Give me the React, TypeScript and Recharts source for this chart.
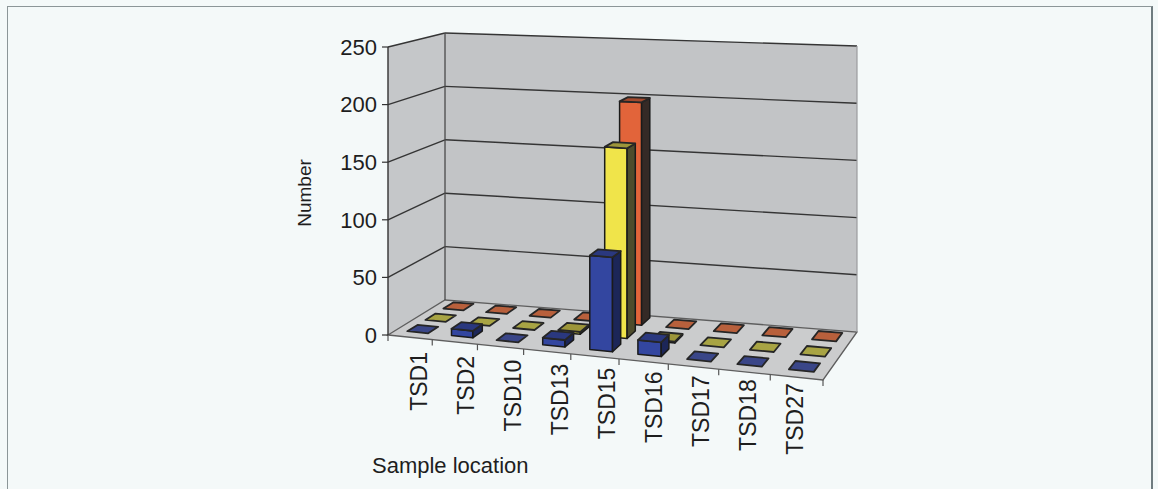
import React from 'react';
import { ComposedChart, Bar, XAxis, YAxis, ReferenceArea } from 'recharts';

// ---------- data ----------
const categories = ['TSD1', 'TSD2', 'TSD10', 'TSD13', 'TSD15', 'TSD16', 'TSD17', 'TSD18', 'TSD27'];
const seriesBlue = [0, 6, 0, 6, 80, 12, 0, 0, 0];
const seriesYellow = [0, 0, 0, 2, 165, 1, 0, 0, 0];
const seriesOrange = [0, 0, 0, 0, 198, 0, 0, 0, 0];
const yTicks = [0, 50, 100, 150, 200, 250];
const yDomain = [0, 250];

const data = categories.map((name, i) => ({
  name,
  blue: seriesBlue[i],
  yellow: seriesYellow[i],
  orange: seriesOrange[i],
}));

// ---------- layout ----------
const W = 1158;
const H = 489;
const MARGIN = { top: 47, right: 335, bottom: 14, left: 288 };
const Y_AXIS_W = 100;
const X_AXIS_H = 140;
const PLOT_L = MARGIN.left + Y_AXIS_W;
const PLOT_W = W - PLOT_L - MARGIN.right;
const PLOT_H = H - MARGIN.top - MARGIN.bottom - X_AXIS_H;
const PLOT_B = MARGIN.top + PLOT_H;

// 3D look (perspective-ish projection of the flat plot box)
const WARP = -0.094;
const FRONT_DROP = 45;
const BACK_DX_L = 57;
const BACK_DY_L = -35;
const BACK_SHRINK = 23;
const BACK_DROP = 32;
const H_FRONT_R = 0.07;
const H_BACK_L = 0.927;
const H_BACK_R = 0.993;

function proj(u: number, v: number, w: number): [number, number] {
  const f = ((1 + WARP) * u) / (1 + WARP * u);
  const xF = PLOT_L + f * PLOT_W;
  const yF = PLOT_B + f * FRONT_DROP;
  const xB = PLOT_L + BACK_DX_L + f * (PLOT_W - BACK_SHRINK);
  const yB = PLOT_B + BACK_DY_L + f * BACK_DROP;
  const hF = PLOT_H * (1 + f * H_FRONT_R);
  const hB = PLOT_H * (H_BACK_L + f * (H_BACK_R - H_BACK_L));
  const x = xF + w * (xB - xF);
  const y = yF + w * (yB - yF);
  const h = hF + w * (hB - hF);
  return [x, y - v * h];
}

const pts = (arr: number[][]) => arr.map(([u, v, w]) => proj(u, v, w).map((n) => n.toFixed(1)).join(',')).join(' ');

const FONT = "'Liberation Sans', Arial, sans-serif";

const ROWS = {
  blue: [0.14, 0.32],
  yellow: [0.46, 0.64],
  orange: [0.78, 0.96],
};

const STYLE = {
  blue: { front: '#3346a0', side: '#1c2658', top: '#2a387f', flat: '#3a4688' },
  yellow: { front: '#f0e44a', side: '#4e4c2c', top: '#9d963a', flat: '#a8a444' },
  orange: { front: '#e2643a', side: '#352a26', top: '#a24a2e', flat: '#b8603c' },
};

function makePrism(key: 'blue' | 'yellow' | 'orange') {
  return (p: any) => {
    const { x, width, height } = p;
    if (x == null || width == null) return <g />;
    const [w0, w1] = ROWS[key];
    const st = STYLE[key];
    const u0 = (x - PLOT_L) / PLOT_W;
    const u1 = (x + width - PLOT_L) / PLOT_W;
    const v = Math.max(0, height || 0) / PLOT_H;
    const stroke = '#1a1a1a';
    const raised = v > 0.001;
    return (
      <g>
        {raised && (
          <polygon points={pts([[u0, 0, w0], [u1, 0, w0], [u1, v, w0], [u0, v, w0]])} fill={st.front} stroke={stroke} strokeWidth={1.5} strokeLinejoin="round" />
        )}
        {raised && (
          <polygon points={pts([[u1, 0, w0], [u1, 0, w1], [u1, v, w1], [u1, v, w0]])} fill={st.side} stroke={stroke} strokeWidth={1.5} strokeLinejoin="round" />
        )}
        <polygon points={pts([[u0, v, w0], [u1, v, w0], [u1, v, w1], [u0, v, w1]])} fill={raised ? st.top : st.flat} stroke="#262626" strokeWidth={1.8} strokeLinejoin="round" />
      </g>
    );
  };
}

function Walls(props: any) {
  const gridColor = '#353535';
  const maxV = yDomain[1];
  const n = categories.length;
  const a0 = proj(0, 0, 1);
  const a1 = proj(0, 1, 1);
  const c0 = proj(1, 0, 1);
  const c1 = proj(1, 1, 1);
  return (
    <g>
      <polygon points={pts([[0, 0, 0], [0, 0, 1], [0, 1, 1], [0, 1, 0]])} fill="#c5c7c9" stroke="none" />
      <polygon points={pts([[0, 0, 1], [1, 0, 1], [1, 1, 1], [0, 1, 1]])} fill="#c2c4c6" stroke="none" />
      <polygon points={pts([[0, 0, 0], [1, 0, 0], [1, 0, 1], [0, 0, 1]])} fill="#cbcccd" stroke="#5e5e5e" strokeWidth={1.3} />
      {yTicks.filter((t) => t > 0).map((t) => {
        const v = t / maxV;
        const a = proj(0, v, 0);
        const b = proj(0, v, 1);
        const c = proj(1, v, 1);
        return (
          <g key={t}>
            <line x1={a[0]} y1={a[1]} x2={b[0]} y2={b[1]} stroke={gridColor} strokeWidth={1.4} />
            <line x1={b[0]} y1={b[1]} x2={c[0]} y2={c[1]} stroke={gridColor} strokeWidth={1.4} />
          </g>
        );
      })}
      <line x1={a0[0]} y1={a0[1]} x2={a1[0]} y2={a1[1]} stroke="#4a4a4a" strokeWidth={1.3} />
      <line x1={c0[0]} y1={c0[1]} x2={c1[0]} y2={c1[1]} stroke="#9a9c9e" strokeWidth={1.2} />
      {Array.from({ length: n + 1 }, (_, i) => {
        const a = proj(i / n, 0, 0);
        return <line key={i} x1={a[0]} y1={a[1]} x2={a[0]} y2={a[1] + 6} stroke="#555" strokeWidth={1.2} />;
      })}
    </g>
  );
}

function CategoryTick(props: any) {
  const { x, payload } = props;
  const u = (x - PLOT_L) / PLOT_W;
  const lx = PLOT_L + 31 + (u - 0.5 / categories.length) * PLOT_W * 0.972;
  const ly = PLOT_B + 17 + (lx - PLOT_L - 31) * 0.083;
  return (
    <text
      x={lx}
      y={ly}
      transform={`rotate(-90 ${lx} ${ly})`}
      textAnchor="end"
      dy="0.36em"
      fontSize={23}
      fontFamily={FONT}
      fill="#1e1e1e"
    >
      {payload.value}
    </text>
  );
}

export default function App() {
  return (
    <div style={{ position: 'relative', width: W, height: H, background: '#f4f9f9', overflow: 'hidden' }}>
      <style>{'body{margin:0;background:#f4f9f9;}'}</style>
      <div
        style={{
          position: 'absolute',
          left: 7,
          top: 6,
          width: 1146,
          height: 500,
          border: '1px solid #8c9698',
          borderRight: '2px solid #6f7c80',
          boxSizing: 'border-box',
        }}
      />
      <div style={{ position: 'absolute', left: 0, top: 0 }}>
        <ComposedChart width={W} height={H} data={data} margin={MARGIN} barCategoryGap="26%">
          <XAxis
            xAxisId="a"
            dataKey="name"
            type="category"
            interval={0}
            height={X_AXIS_H}
            axisLine={false}
            tickLine={false}
            tick={<CategoryTick />}
            label={{
              content: (lp: any) => {
                const vb = lp.viewBox || { x: PLOT_L, y: PLOT_B, height: X_AXIS_H };
                return (
                  <text x={vb.x - 16} y={vb.y + vb.height - 2} fontSize={22} fontFamily={FONT} fill="#1e1e1e">
                    Sample location
                  </text>
                );
              },
            }}
          />
          <XAxis xAxisId="b" dataKey="name" type="category" hide />
          <XAxis xAxisId="c" dataKey="name" type="category" hide />
          <YAxis
            type="number"
            domain={yDomain}
            ticks={yTicks}
            width={Y_AXIS_W}
            tickSize={6}
            tickMargin={5}
            interval={0}
            axisLine={{ stroke: '#333', strokeWidth: 1.4 }}
            tickLine={{ stroke: '#333', strokeWidth: 1.2 }}
            tick={{ fontSize: 22, fontFamily: FONT, fill: '#1e1e1e' }}
            label={{
              content: (lp: any) => {
                const vb = lp.viewBox || { x: MARGIN.left, y: MARGIN.top, height: PLOT_H };
                const cx = vb.x + 16;
                const cy = vb.y + vb.height / 2 + 2;
                return (
                  <text x={cx} y={cy} transform={`rotate(-90 ${cx} ${cy})`} textAnchor="middle" dy="0.36em" fontSize={19} fontFamily={FONT} fill="#1e1e1e">
                    Number
                  </text>
                );
              },
            }}
          />
          <ReferenceArea xAxisId="a" y1={yDomain[0]} y2={yDomain[1]} shape={(p: any) => <Walls {...p} />} />
          <Bar xAxisId="c" dataKey="orange" isAnimationActive={false} shape={makePrism('orange')} />
          <Bar xAxisId="b" dataKey="yellow" isAnimationActive={false} shape={makePrism('yellow')} />
          <Bar xAxisId="a" dataKey="blue" isAnimationActive={false} shape={makePrism('blue')} />
        </ComposedChart>
      </div>
    </div>
  );
}
